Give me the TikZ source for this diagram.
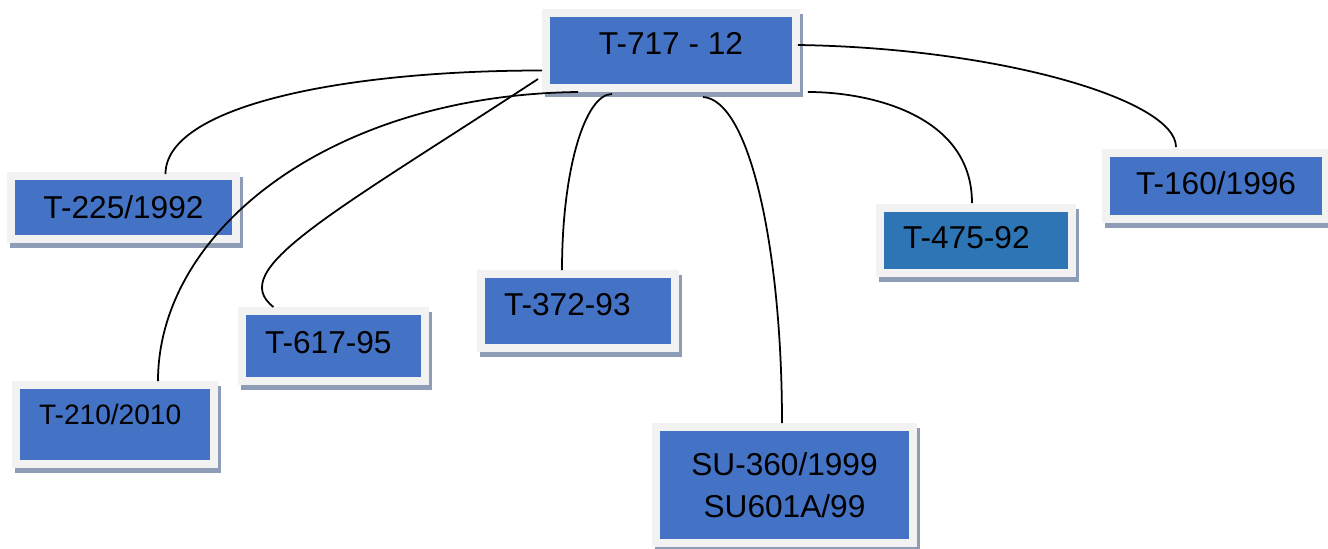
\documentclass[tikz,border=0pt]{standalone}
\usepackage{fontspec}
\setmainfont{Liberation Sans}
\usetikzlibrary{calc}
\definecolor{boxblue}{HTML}{4472C4}
\definecolor{deepblue}{HTML}{2E75B6}
\definecolor{framegrey}{HTML}{F2F2F2}
\definecolor{shadowgrey}{HTML}{8E9CB6}
\tikzset{
  card/.style={draw=framegrey,line width=0.16cm,fill=boxblue,outer sep=0.08cm,inner sep=0pt,align=center,text=black,font=\fontsize{18}{24}\selectfont,
    preaction={draw=shadowgrey,fill=shadowgrey,transform canvas={xshift=0.06cm,yshift=-0.1cm}}},
  lift/.style={text height=13pt,text depth=#1},
  leftpad/.style={align=left,inner xsep=0.46cm,text width=#1},
  link/.style={draw=black,line width=1pt}
}
\begin{document}
\begin{tikzpicture}[x=0.02cm,y=-0.02cm]
  \useasboundingbox (0,0) rectangle (1328,548);
  \node[card, minimum width=5cm, minimum height=1.5cm, lift=8pt] (root) at (671,50.5) {T-717 - 12};
  \node[card, minimum width=4.5cm, minimum height=1.26cm] (b225) at (123.5,207.5) {T-225/1992};
  \node[card, minimum width=4.4cm, minimum height=1.32cm, lift=3.4pt] (b160) at (1216,186) {T-160/1996};
  \node[card, fill=deepblue, leftpad=2.92cm, minimum height=1.3cm, lift=3.4pt] (b475) at (976,240.5) {T-475-92};
  \node[card, leftpad=2.96cm, minimum height=1.48cm, lift=8pt] (b372) at (578,311) {T-372-93};
  \node[card, leftpad=2.74cm, minimum height=1.4cm, lift=4pt] (b617) at (333.5,346) {T-617-95};
  \node[card, font=\fontsize{16}{20}\selectfont, leftpad=3.04cm, minimum height=1.58cm, lift=13pt] (b210) at (115,424.5) {T-210/2010};
  \node[card, minimum width=5.14cm, minimum height=2.32cm] (bsu) at (784.5,485) {SU-360/1999\\SU601A/99};
  \draw[link] ($(root.west)+(0,20)$) .. controls +(-203,0) and +(0,-67) .. ($(b225.north)+(42,2)$);
  \draw[link] ($(root.south)+(-93,0)$) .. controls +(-248,3) and +(0,-150) .. ($(b210.north)+(43,0)$);
  \draw[link] ($(root.south west)+(-4,-13)$) .. controls +(-208,136) and +(-48,-37) .. ($(b617.north)+(-60,0)$);
  \draw[link] ($(root.south)+(-59,2)$) .. controls +(-27,0) and +(0,-100) .. ($(b372.north)+(-16,0)$);
  \draw[link] ($(root.south)+(32,5)$) .. controls +(47,3) and +(0,-173) .. ($(bsu.north)+(-2.5,0)$);
  \draw[link] ($(root.south east)+(8,0)$) .. controls +(62,0) and +(0,-88) .. ($(b475.north)+(-4,-1)$);
  \draw[link] ($(root.east)+(-2,-5.5)$) .. controls +(202,3) and +(0,-47) .. ($(b160.north)+(-40,-2)$);
\end{tikzpicture}
\end{document}
